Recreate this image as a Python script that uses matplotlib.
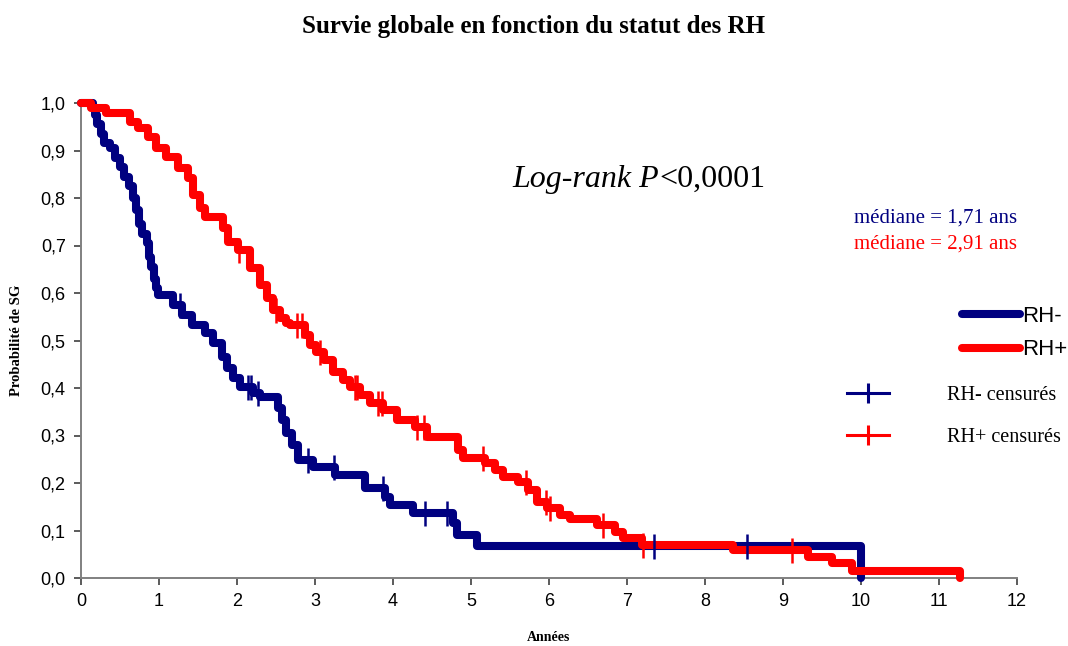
import numpy as np
import matplotlib
matplotlib.use("Agg")
import matplotlib.pyplot as plt
from matplotlib.lines import Line2D

# RH- : temps (années) des sauts et survie après chaque saut
rhm_t = [0.0, 0.15, 0.18, 0.21, 0.25, 0.29, 0.37, 0.44, 0.50, 0.55, 0.62, 0.67, 0.71,
         0.74, 0.78, 0.84, 0.87, 0.90, 0.93, 0.96, 0.99, 1.18, 1.29, 1.42, 1.59, 1.69,
         1.81, 1.87, 1.95, 2.04, 2.21, 2.29, 2.53, 2.58, 2.63, 2.71, 2.78, 2.97, 3.26,
         3.64, 3.90, 3.96, 4.26, 4.77, 4.82, 5.08, 10.0]
rhm_s = [1.0, 0.99, 0.975, 0.955, 0.935, 0.915, 0.905, 0.885, 0.865, 0.845, 0.825, 0.80,
         0.775, 0.745, 0.725, 0.705, 0.675, 0.655, 0.63, 0.61, 0.596, 0.575, 0.554, 0.533,
         0.516, 0.495, 0.465, 0.442, 0.421, 0.402, 0.389, 0.381, 0.358, 0.333, 0.305,
         0.28, 0.248, 0.234, 0.217, 0.189, 0.171, 0.154, 0.137, 0.116, 0.091, 0.067, 0.0]
rhm_cens = [1.27, 2.14, 2.18, 2.27, 2.91, 3.24, 3.87, 4.41, 4.69, 7.35, 8.54]

# RH+
rhp_t = [0.0, 0.13, 0.32, 0.63, 0.73, 0.86, 0.96, 1.09, 1.24, 1.37, 1.44, 1.53, 1.59,
         1.82, 1.88, 2.01, 2.17, 2.29, 2.38, 2.46, 2.55, 2.63, 2.68, 2.87, 2.94, 3.01,
         3.12, 3.23, 3.36, 3.45, 3.58, 3.71, 3.87, 4.05, 4.28, 4.44, 4.83, 4.90, 5.18,
         5.31, 5.41, 5.60, 5.73, 5.85, 5.97, 6.14, 6.27, 6.62, 6.85, 6.95, 7.19, 8.36,
         9.32, 9.63, 9.88, 11.27]
rhp_s = [1.0, 0.989, 0.979, 0.96, 0.947, 0.928, 0.905, 0.886, 0.863, 0.842, 0.806, 0.779,
         0.76, 0.737, 0.707, 0.69, 0.653, 0.617, 0.589, 0.564, 0.547, 0.537, 0.533, 0.512,
         0.491, 0.476, 0.459, 0.434, 0.417, 0.402, 0.385, 0.368, 0.354, 0.333, 0.318,
         0.297, 0.269, 0.253, 0.242, 0.227, 0.213, 0.202, 0.185, 0.16, 0.147, 0.133,
         0.124, 0.112, 0.097, 0.084, 0.069, 0.059, 0.044, 0.032, 0.015, 0.0]
rhp_cens = [2.03, 2.50, 2.77, 2.83, 3.06, 3.51, 3.54, 3.81, 3.86, 4.31, 4.40, 5.15, 5.70,
            5.96, 6.01, 6.69, 7.20, 9.12]

x_ticks = list(range(0, 13))
y_ticks = [0.0, 0.1, 0.2, 0.3, 0.4, 0.5, 0.6, 0.7, 0.8, 0.9, 1.0]
y_labels = ["0,0", "0,1", "0,2", "0,3", "0,4", "0,5", "0,6", "0,7", "0,8", "0,9", "1,0"]

NAVY = "#000080"
RED = "#ff0000"
SERIF = ["Liberation Serif", "DejaVu Serif"]
SANS = ["Liberation Sans", "DejaVu Sans"]


def surv_at(t, s, x):
    idx = np.searchsorted(np.array(t), np.array(x), side="right") - 1
    return np.array(s)[idx]


fig = plt.figure(figsize=(10.68, 6.46), dpi=100)
ax = fig.add_axes([81 / 1068, 1 - 578 / 646, (1017 - 81) / 1068, (578 - 103) / 646])

kw = dict(where="post", lw=5.8, solid_capstyle="round", solid_joinstyle="round", clip_on=False)
ax.step(rhm_t, rhm_s, color=NAVY, zorder=3, **kw)
ax.step(rhp_t, rhp_s, color=RED, zorder=4, **kw)
ax.plot(rhm_cens, surv_at(rhm_t, rhm_s, rhm_cens), ls="none", marker="|", ms=18, mew=1.8,
        color=NAVY, zorder=6, clip_on=False)
ax.plot(rhp_cens, surv_at(rhp_t, rhp_s, rhp_cens), ls="none", marker="|", ms=18, mew=1.8,
        color=RED, zorder=5, clip_on=False)

ax.set_xlim(0, 12)
ax.set_ylim(0, 1.0)
ax.set_xticks(x_ticks)
ax.set_yticks(y_ticks)
ax.set_yticklabels(y_labels)
for sp in ("top", "right"):
    ax.spines[sp].set_visible(False)
for sp in ("left", "bottom"):
    ax.spines[sp].set_color("#808080")
    ax.spines[sp].set_linewidth(1.4)
ax.tick_params(direction="out", length=5, width=1.2, color="#404040", labelsize=13, pad=6)
for lab in ax.get_xticklabels() + ax.get_yticklabels():
    lab.set_family(SANS)

ax.set_xlabel("Années", family=SERIF, fontweight="bold", fontsize=10, labelpad=15)
ax.set_ylabel("Probabilité de SG", family=SERIF, fontweight="bold", fontsize=10.5, labelpad=13)
fig.text(534 / 1068, 1 - 26 / 646, "Survie globale en fonction du statut des RH",
         family=SERIF, fontweight="bold", fontsize=18, ha="center", va="center")

ax.text(7.41, 0.823, "Log-rank P", family=SERIF, style="italic", fontsize=23,
        ha="right", va="baseline")
ax.text(7.41, 0.823, "<0,0001", family=SERIF, fontsize=23, ha="left", va="baseline")
ax.text(12.0, 0.758, "médiane = 1,71 ans", family=SERIF, fontsize=15, color=NAVY,
        ha="right", va="center")
ax.text(12.0, 0.703, "médiane = 2,91 ans", family=SERIF, fontsize=15, color=RED,
        ha="right", va="center")

h1 = [Line2D([], [], color=NAVY, lw=5.8, solid_capstyle="round"),
      Line2D([], [], color=RED, lw=5.8, solid_capstyle="round")]
leg1 = fig.legend(h1, ["RH-", "RH+"], loc="upper left",
                  bbox_to_anchor=(962 / 1068, 1 - 306 / 646), frameon=False,
                  borderpad=0, borderaxespad=0, handlelength=2.6, handletextpad=0.12,
                  labelspacing=0.56, prop=dict(family=SANS, size=16))
h2 = [Line2D([], [], color=NAVY, lw=2.2, marker="|", ms=14, mew=2.2),
      Line2D([], [], color=RED, lw=2.2, marker="|", ms=14, mew=2.2)]
leg2 = fig.legend(h2, ["RH- censurés", "RH+ censurés"], loc="upper left",
                  bbox_to_anchor=(847 / 1068, 1 - 386 / 646), frameon=False,
                  borderpad=0, borderaxespad=0, handlelength=2.1, handletextpad=2.85,
                  labelspacing=1.15, prop=dict(family=SERIF, size=14.5))

fig.savefig("out.png", dpi=100)
